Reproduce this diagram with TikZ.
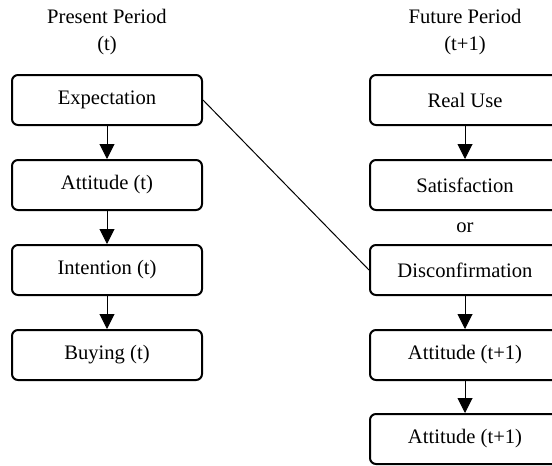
\documentclass[tikz,border=0pt]{standalone}
\usepackage{fontspec}
\setmainfont{Liberation Serif}
\usetikzlibrary{arrows.meta}
\begin{document}
\begin{tikzpicture}[x=1pt,y=-1pt,
  box/.style={draw, line width=2pt, rounded corners=6pt, minimum width=190pt, minimum height=50pt, inner sep=0pt, font=\fontsize{20.6}{24}\selectfont},
  head/.style={align=center, font=\fontsize{20.6}{27}\selectfont},
  arr/.style={line width=1pt, -{Triangle[length=15pt,width=15pt]}},
  link/.style={line width=1pt}]
\useasboundingbox (0,0) rectangle (552,466);
\clip (0,0) rectangle (552,466);
\node[head] (hp) at (107,32) {Present Period\\(t)};
\node[head] (hf) at (465,32) {Future Period\\(t+1)};
\node[box] (exp) at (107,100) {Expectation};
\node[box] (att) at (107,185) {Attitude (t)};
\node[box] (int) at (107,270) {Intention (t)};
\node[box] (buy) at (107,355) {Buying (t)};
\node[box] (real) at (465,100) {Real Use};
\node[box] (sat) at (465,185) {Satisfaction};
\node[font=\fontsize{20.6}{24}\selectfont] (or) at (465,228) {or};
\node[box] (dis) at (465,270) {Disconfirmation};
\node[box] (att1) at (465,355) {Attitude (t+1)};
\node[box] (att2) at (465,439) {Attitude (t+1)};
\draw[arr] (exp) -- (att);
\draw[arr] (att) -- (int);
\draw[arr] (int) -- (buy);
\draw[arr] (real) -- (sat);
\draw[arr] (dis) -- (att1);
\draw[arr] (att1) -- (att2);
\draw[link] (exp.east) -- (dis.west);
\end{tikzpicture}
\end{document}
